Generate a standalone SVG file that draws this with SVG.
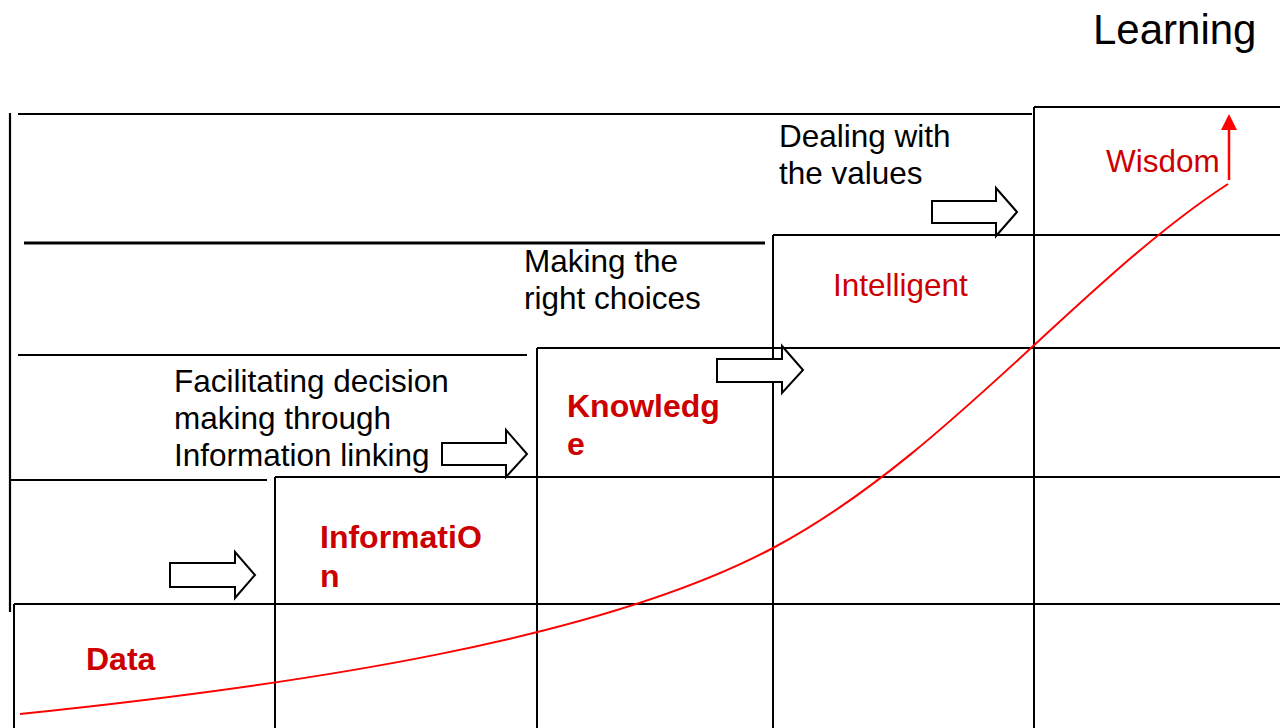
<svg xmlns="http://www.w3.org/2000/svg" width="1280" height="728" viewBox="0 0 1280 728">
<style>
.grid{stroke:#000;stroke-width:2;fill:none}
.frame{stroke:#000;stroke-width:2.2;fill:none}
.lbl{font-family:"Liberation Sans",Arial,sans-serif;font-size:31.5px;fill:#000}
.big{font-family:"Liberation Sans",Arial,sans-serif;font-size:42px;fill:#000}
.red{font-family:"Liberation Sans",Arial,sans-serif;font-size:31.5px;fill:#cc0000}
.redb{font-family:"Liberation Sans",Arial,sans-serif;font-size:32px;font-weight:bold;fill:#cc0000}
.blk{fill:#fff;stroke:#000;stroke-width:2}
</style>
<rect width="1280" height="728" fill="#fff"/>
<g id="frame">
<line class="frame" x1="10" y1="113" x2="10" y2="612"/>
<line class="frame" x1="18" y1="114" x2="1032" y2="114"/>
<line class="frame" x1="24" y1="243" x2="765" y2="243" style="stroke-width:3"/>
<line class="frame" x1="18" y1="355" x2="527" y2="355"/>
<line class="frame" x1="10" y1="480" x2="267" y2="480"/>
</g>
<g id="grid">
<line class="grid" x1="14" y1="604" x2="1280" y2="604"/>
<line class="grid" x1="275" y1="477" x2="1280" y2="477"/>
<line class="grid" x1="537" y1="348" x2="1280" y2="348"/>
<line class="grid" x1="773" y1="235" x2="1280" y2="235"/>
<line class="grid" x1="1034" y1="107" x2="1280" y2="107"/>
</g>
<g id="node-data">
<line class="grid" x1="14" y1="604" x2="14" y2="728"/>
<text class="redb" x="86" y="670">Data</text>
</g>
<g id="node-information">
<line class="grid" x1="275" y1="477" x2="275" y2="728"/>
<text class="redb" x="320" y="548">InformatiO</text>
<text class="redb" x="320" y="587">n</text>
</g>
<g id="node-knowledge">
<line class="grid" x1="537" y1="348" x2="537" y2="728"/>
<text class="redb" x="567" y="417">Knowledg</text>
<text class="redb" x="567" y="455">e</text>
</g>
<g id="node-intelligent">
<line class="grid" x1="773" y1="235" x2="773" y2="728"/>
<text class="red" x="833" y="296">Intelligent</text>
</g>
<g id="node-wisdom">
<line class="grid" x1="1034" y1="107" x2="1034" y2="728"/>
<text class="red" x="1106" y="172">Wisdom</text>
</g>
<g id="captions">
<text class="big" x="1093" y="44">Learning</text>
<text class="lbl" x="779" y="147">Dealing with</text>
<text class="lbl" x="779" y="184">the values</text>
<text class="lbl" x="524" y="272">Making the</text>
<text class="lbl" x="524" y="309">right choices</text>
<text class="lbl" x="174" y="392">Facilitating decision</text>
<text class="lbl" x="174" y="429">making through</text>
<text class="lbl" x="174" y="466">Information linking</text>
</g>
<g id="connectors">
<polygon class="blk" points="170,563 235,563 235,552 255,575 235,598 235,587 170,587"/>
<polygon class="blk" points="442,443 506,443 506,430 527,454 506,477 506,465 442,465"/>
<polygon class="blk" points="717,359 782,359 782,346 803,370 782,393 782,382 717,382"/>
<polygon class="blk" points="932,201 996,201 996,188 1017,212 996,236 996,223 932,223"/>
<path d="M20,714 C300,685 600,640 773,548 S1080,280 1228,184" fill="none" stroke="#ff0000" stroke-width="2"/>
<line x1="1229" y1="180" x2="1229" y2="128" stroke="#ff0000" stroke-width="2.5"/>
<polygon points="1221,130 1237,130 1229,114" fill="#ff0000"/>
</g>
</svg>
